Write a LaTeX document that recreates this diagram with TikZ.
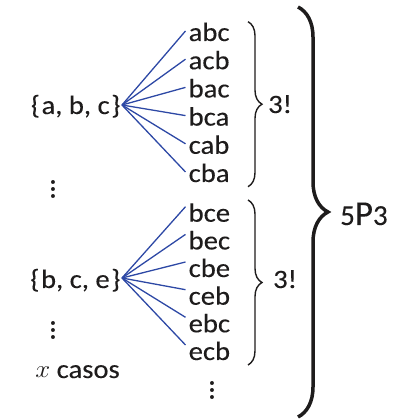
\documentclass[tikz,border=0pt]{standalone}
\usepackage{fontspec}
\setmainfont{Carlito}[FakeBold=0.2]
\usepackage{graphicx}
\usetikzlibrary{decorations.pathreplacing}
\definecolor{treeblue}{RGB}{45,72,165}
\definecolor{ink}{RGB}{30,28,28}
\newcommand{\stx}[1]{\scalebox{1.08}[1]{#1}}
\newcommand{\mydots}{\vbox{\fontsize{30}{30}\selectfont\baselineskip=7pt\lineskiplimit=0pt\hbox{.}\hbox{.}\hbox{.}}}
\begin{document}
\begin{tikzpicture}[x=1pt,y=1pt,
  txt/.style={font=\fontsize{26.5}{30}\selectfont, text=ink, inner sep=0pt},
  setnode/.style={txt, anchor=east, text depth=0pt, inner xsep=1.5pt},
  leafA/.style={txt, anchor=west, text height=20pt, text depth=0pt, inner xsep=3pt},
  leafB/.style={txt, anchor=west, text height=30pt, text depth=0pt, inner xsep=3pt},
  branch/.style={draw=treeblue, line width=1.3pt},
  smallbrace/.style={draw=ink, line width=1.4pt, decorate, decoration={brace, amplitude=14pt}},
  bigbrace/.style={draw=ink, line width=3.5pt, decorate, decoration={brace, amplitude=30pt}}]
\useasboundingbox (0,0) rectangle (403,420);
% sets
\node[setnode, text height=18pt] (s1) at (122,315) {\stx{\{\kern1.5pt a, b, c\kern1.5pt\}}};
\node[setnode, text height=20pt] (s2) at (122,142) {\stx{\{\kern1.5pt b, c, e\kern1.5pt\}}};
% group 1 leaves
\node[leafA] (a1) at (185.5,389)   {\stx{abc}};
\node[leafA] (a2) at (185.5,360.8) {\stx{acb}};
\node[leafA] (a3) at (185.5,332.6) {\stx{bac}};
\node[leafA] (a4) at (185.5,304.4) {\stx{bca}};
\node[leafA] (a5) at (185.5,276.2) {\stx{cab}};
\node[leafA] (a6) at (185.5,248)   {\stx{cba}};
% group 2 leaves
\node[leafB] (b1) at (185.5,213.3) {\stx{bce}};
\node[leafB] (b2) at (185.5,185.6) {\stx{bec}};
\node[leafB] (b3) at (185.5,158)   {\stx{cbe}};
\node[leafB] (b4) at (185.5,130.3) {\stx{ceb}};
\node[leafB] (b5) at (185.5,102.7) {\stx{ebc}};
\node[leafB] (b6) at (185.5,75)    {\stx{ecb}};
% branches
\foreach \i in {1,...,6} {
  \draw[branch] (s1.east) -- (a\i.west);
  \draw[branch] (s2.east) -- (b\i.west);
}
% dots
\node[txt] (d1) at (53,231) {\mydots};
\node[txt] (d2) at (53,90) {\mydots};
\node[txt] (d3) at (212,30) {\mydots};
\node[txt, anchor=base] (cases) at (77.5,42) {\stx{$x$ casos}};
% braces
\coordinate (t1) at (248,398.3);
\coordinate (u1) at (248,233.3);
\coordinate (t2) at (248,220);
\coordinate (u2) at (248,55);
\coordinate (t3) at (298,413);
\coordinate (u3) at (298,3);
\draw[smallbrace] (t1) -- (u1);
\draw[smallbrace] (t2) -- (u2);
\draw[bigbrace] (t3) -- (u3);
\node[txt, anchor=base west] (f1) at (268,307) {\stx{3!}};
\node[txt, anchor=base west] (f2) at (273,132) {\stx{3!}};
\node[txt, anchor=base west] (p) at (340,195) {{\fontsize{29}{30}\selectfont 5}{\fontsize{35}{36}\selectfont P}{\fontsize{29}{30}\selectfont 3}};
\end{tikzpicture}
\end{document}
